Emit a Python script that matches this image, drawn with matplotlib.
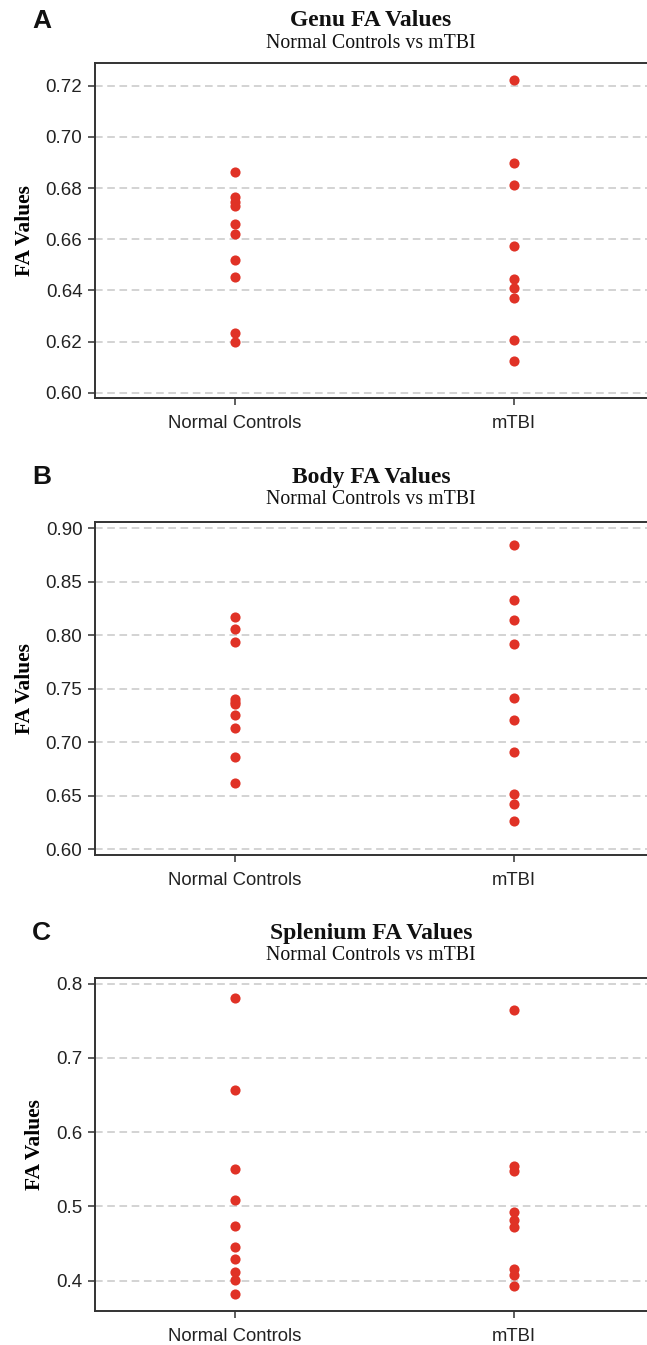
import matplotlib
matplotlib.use("Agg")
from matplotlib import pyplot as plt

groups = ["Normal Controls", "mTBI"]

# FA values
genu_controls = [0.6863, 0.6764, 0.6747, 0.6731, 0.6658, 0.6620, 0.6519, 0.6453, 0.6232, 0.6197]
genu_mtbi = [0.7221, 0.6899, 0.6812, 0.6573, 0.6446, 0.6409, 0.6371, 0.6206, 0.6125]

body_controls = [0.8174, 0.8056, 0.7941, 0.7402, 0.7380, 0.7355, 0.7252, 0.7131, 0.6866, 0.6617]
body_mtbi = [0.8844, 0.8327, 0.8140, 0.7922, 0.7417, 0.7209, 0.6913, 0.6517, 0.6421, 0.6265]

splenium_controls = [0.7802, 0.6568, 0.5508, 0.5086, 0.4736, 0.4458, 0.4292, 0.4112, 0.4009, 0.3820]
splenium_mtbi = [0.7641, 0.5544, 0.5481, 0.4925, 0.4817, 0.4727, 0.4157, 0.4076, 0.3928]

panels = [
    ("A", "Genu FA Values", genu_controls, genu_mtbi,
     [0.60, 0.62, 0.64, 0.66, 0.68, 0.70, 0.72], (0.5978, 0.7288), "%.2f"),
    ("B", "Body FA Values", body_controls, body_mtbi,
     [0.60, 0.65, 0.70, 0.75, 0.80, 0.85, 0.90], (0.5947, 0.9056), "%.2f"),
    ("C", "Splenium FA Values", splenium_controls, splenium_mtbi,
     [0.4, 0.5, 0.6, 0.7, 0.8], (0.359, 0.808), "%.1f"),
]

W, H = 647, 1345
fig = plt.figure(figsize=(W / 100, H / 100), dpi=100)

# axes boxes in pixels: (top, bottom)
boxes = [(63.3, 398.3), (522.3, 855.0), (977.7, 1311.0)]
title_y = [21, 44, 477, 499, 933, 956]
left_px = 95

dot_color = "#e03226"
serif = "Liberation Serif"
sans = "Liberation Sans"

for i, (letter, title, ctrl, mtbi, yticks, ylim, fmt) in enumerate(panels):
    top, bot = boxes[i]
    ax = fig.add_axes([left_px / W, 1 - bot / H, 1 - left_px / W, (bot - top) / H])

    ax.plot([1] * len(ctrl), ctrl, "o", color=dot_color, markersize=7.3, markeredgewidth=0)
    ax.plot([2] * len(mtbi), mtbi, "o", color=dot_color, markersize=7.3, markeredgewidth=0)

    ax.set_xlim(0.5, 2.477)
    ax.set_ylim(*ylim)
    ax.set_xticks([1, 2])
    ax.set_xticklabels(groups, fontfamily=sans, fontsize=13.3, color="#222222")
    ax.set_yticks(yticks)
    ax.set_yticklabels([fmt % v for v in yticks], fontfamily=sans, fontsize=13.5, color="#222222")
    ax.tick_params(direction="out", length=5, width=1.1, color="#333333", pad=4)
    ax.tick_params(axis="x", pad=7)

    ax.yaxis.grid(True, linestyle=(0, (5, 3)), color="#c8c8c8", linewidth=1.1)
    ax.set_axisbelow(True)

    for side in ["left", "bottom", "top"]:
        ax.spines[side].set_linewidth(1.4)
        ax.spines[side].set_color("#333333")
    ax.spines["right"].set_visible(False)

    ax.set_ylabel("FA Values", fontfamily=serif, fontweight="bold", fontsize=15.5, labelpad=8)

    cx = (left_px + W) / 2 / W
    fig.text(cx, 1 - title_y[2 * i] / H, title, ha="center", va="center",
             fontfamily=serif, fontweight="bold", fontsize=17, color="#111111")
    fig.text(cx, 1 - title_y[2 * i + 1] / H, "Normal Controls vs mTBI", ha="center", va="center",
             fontfamily=serif, fontsize=14.3, color="#111111")
    fig.text(32 / W, 1 - title_y[2 * i] / H, letter, ha="left", va="center",
             fontfamily=sans, fontweight="bold", fontsize=19, color="#111111")

plt.savefig("out.png", dpi=100)
